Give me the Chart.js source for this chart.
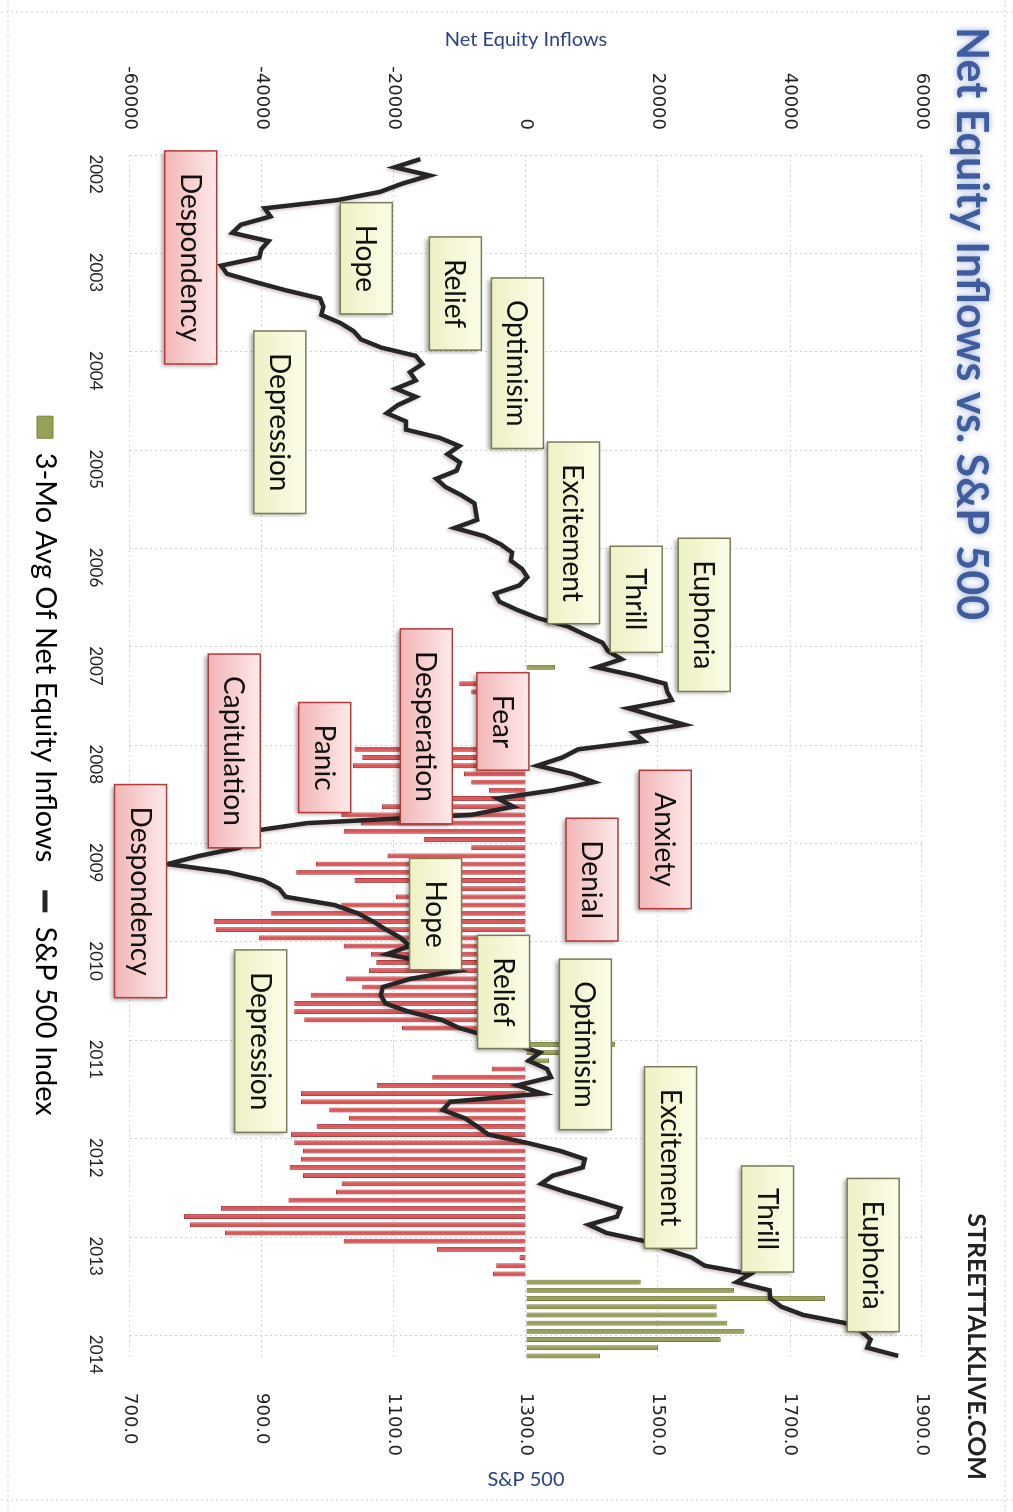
<!DOCTYPE html>
<html>
<head>
<meta charset="utf-8">
<title>Net Equity Inflows vs. S&amp;P 500</title>
<script src="https://cdn.jsdelivr.net/npm/chart.js@4.4.1/dist/chart.umd.min.js"></script>
<style>
  html, body { margin: 0; padding: 0; background: #fff; overflow: hidden; }
  #page { width: 1013px; height: 1512px; position: relative; }
  /* chart is drawn landscape and turned a quarter clockwise, like the scanned page */
  #wrap { position: absolute; left: 0; top: 0; width: 1512px; height: 1013px;
          transform-origin: 0 0; transform: translateX(1013px) rotate(90deg); }
</style>
</head>
<body>
<div id="page"><div id="wrap"><canvas id="chart" width="1512" height="1013"></canvas></div></div>
<script>
// months Jan 2002 .. Mar 2014
const months = [];
for (let yr = 2002; yr <= 2014; yr++) {
    for (let mo = 1; mo <= 12; mo++) {
        if (yr === 2014 && mo > 3) break;
        months.push(yr + "-" + String(mo).padStart(2, "0"));
    }
}

const yearLabels = ["2002", "2003", "2004", "2005", "2006", "2007", "2008",
    "2009", "2010", "2011", "2012", "2013", "2014"];

// S&P 500, monthly average
const spx = [
    1140, 1101, 1154, 1112, 1079, 1014, 904, 913, 868, 855, 910, 899,
    896, 838, 847, 890, 936, 988, 993, 990, 1019, 1039, 1050, 1081,
    1133, 1143, 1124, 1133, 1103, 1133, 1106, 1089, 1118, 1118, 1169, 1199,
    1181, 1200, 1195, 1164, 1178, 1202, 1222, 1224, 1226, 1192, 1237, 1262,
    1279, 1277, 1294, 1302, 1290, 1253, 1260, 1287, 1318, 1363, 1389, 1416,
    1424, 1445, 1407, 1464, 1511, 1514, 1521, 1455, 1497, 1540, 1463, 1479,
    1379, 1355, 1317, 1370, 1403, 1341, 1257, 1281, 1217, 969, 883, 878,
    866, 805, 757, 848, 902, 926, 936, 1010, 1045, 1068, 1088, 1110,
    1124, 1089, 1152, 1197, 1125, 1083, 1080, 1087, 1122, 1172, 1199, 1242,
    1283, 1321, 1304, 1332, 1338, 1287, 1325, 1185, 1174, 1207, 1226, 1243,
    1301, 1352, 1389, 1386, 1341, 1323, 1360, 1403, 1443, 1438, 1395, 1422,
    1480, 1512, 1551, 1571, 1640, 1619, 1669, 1670, 1687, 1720, 1784, 1808,
    1822, 1817, 1864
];

// 3-month average of net equity inflows (starts Mar 2007)
const netFlows = [
    null, null, null, null, null, null, null, null, null, null, null, null,
    null, null, null, null, null, null, null, null, null, null, null, null,
    null, null, null, null, null, null, null, null, null, null, null, null,
    null, null, null, null, null, null, null, null, null, null, null, null,
    null, null, null, null, null, null, null, null, null, null, null, null,
    null, null, 4400, -2500, -10100, -8300, -4000, -2000, -5500, -6500, -3000, -5000,
    -26000, -24800, -26200, -9400, -8300, -5600, -15000, -21800, -28000, -25000, -27600, -15500,
    -8300, -21000, -31800, -34800, -26000, -16000, -19700, -28000, -38600, -47300, -47000, -40500,
    -27600, -23500, -22700, -23800, -27300, -24800, -32600, -35100, -35100, -33600, -18800, -3000,
    13500, 13000, 3500, -5200, -14200, -22600, -34100, -34100, -29800, -26800, -31700, -35600,
    -35100, -33800, -34100, -35800, -33800, -27900, -28800, -36000, -46200, -51800, -50900, -45600,
    -27600, -13500, -1000, -4500, -5000, 17400, 31500, 45300, 28900, 28900, 30500, 33100,
    29500, 20000, 11200
];

// sentiment call-outs, anchored at (month index, net inflow)
const phases = [
    { text: "Despondency", month: 12.0, flow: -50800, mood: "fear" },
    { text: "Hope", month: 12.1, flow: -24200, mood: "greed" },
    { text: "Relief", month: 16.4, flow: -10700, mood: "greed" },
    { text: "Optimisim", month: 24.9, flow: -1300, mood: "greed" },
    { text: "Depression", month: 32.1, flow: -37300, mood: "greed" },
    { text: "Excitement", month: 45.6, flow: 7200, mood: "greed" },
    { text: "Thrill", month: 53.7, flow: 16700, mood: "greed" },
    { text: "Euphoria", month: 55.6, flow: 27000, mood: "greed" },
    { text: "Desperation", month: 69.2, flow: -15100, mood: "fear" },
    { text: "Fear", month: 68.6, flow: -3500, mood: "fear" },
    { text: "Capitulation", month: 72.2, flow: -44200, mood: "fear" },
    { text: "Panic", month: 73.0, flow: -30500, mood: "fear" },
    { text: "Anxiety", month: 83.0, flow: 21100, mood: "fear" },
    { text: "Denial", month: 87.9, flow: 10000, mood: "fear" },
    { text: "Despondency", month: 89.3, flow: -58400, mood: "fear" },
    { text: "Hope", month: 92.1, flow: -13700, mood: "greed" },
    { text: "Relief", month: 101.6, flow: -3400, mood: "greed" },
    { text: "Optimisim", month: 108.0, flow: 9000, mood: "greed" },
    { text: "Depression", month: 107.6, flow: -40200, mood: "greed" },
    { text: "Excitement", month: 121.8, flow: 21900, mood: "greed" },
    { text: "Thrill", month: 129.3, flow: 36600, mood: "greed" },
    { text: "Euphoria", month: 133.7, flow: 52600, mood: "greed" }
];

const RED = "#df565a";
const RED_EDGE = "#b23f43";
const GREEN = "#98a058";
const GREEN_EDGE = "#77803e";
const LINE = "#262626";
const GRID = "#d2d2d2";
const AXIS_BLUE = "#2b4283";

const decor = {
    id: "decor",
    beforeDraw(chart) {
        // faint spreadsheet cell borders of the scanned page
        const ctx = chart.ctx;
        ctx.save();
        ctx.strokeStyle = "#cfcfcf";
        ctx.lineWidth = 1;
        ctx.setLineDash([2, 3]);
        ctx.beginPath();
        ctx.moveTo(12, 0); ctx.lineTo(12, 1013);
        ctx.moveTo(1500, 0); ctx.lineTo(1500, 1013);
        ctx.moveTo(0, 1005); ctx.lineTo(1512, 1005);
        ctx.moveTo(0, 8); ctx.lineTo(1512, 8);
        ctx.stroke();
        ctx.restore();
    },
    beforeDatasetsDraw(chart) {
        const ctx = chart.ctx;
        ctx.save();
        ctx.shadowColor = "rgba(120,60,60,0.28)";
        ctx.shadowBlur = 3;
        ctx.shadowOffsetX = 2;
        ctx.shadowOffsetY = 2;
    },
    afterDatasetsDraw(chart) {
        const { ctx, scales } = chart;
        ctx.restore();
        ctx.save();
        ctx.font = "28px Lato";
        ctx.textAlign = "center";
        ctx.textBaseline = "middle";
        phases.forEach(p => {
            // fractional month -> pixel along the category axis
            const m0 = Math.floor(p.month);
            const p0 = scales.x.getPixelForValue(m0);
            const cx = p0 + (p.month - m0) * (scales.x.getPixelForValue(m0 + 1) - p0);
            const cy = scales.y.getPixelForValue(p.flow);
            const w = ctx.measureText(p.text).width + 44;
            const h = 52;
            const x0 = cx - w / 2, y0 = cy - h / 2;
            const fear = p.mood === "fear";
            const g = ctx.createLinearGradient(0, y0, 0, y0 + h);
            if (fear) {
                g.addColorStop(0, "#fde9e9");
                g.addColorStop(1, "#f2b6b6");
            } else {
                g.addColorStop(0, "#fcfde8");
                g.addColorStop(1, "#eef0c4");
            }
            ctx.shadowColor = "rgba(0,0,0,0.35)";
            ctx.shadowBlur = 4;
            ctx.shadowOffsetX = 2;
            ctx.shadowOffsetY = 3;
            ctx.fillStyle = g;
            ctx.fillRect(x0, y0, w, h);
            ctx.shadowColor = "transparent";
            ctx.lineWidth = 1.5;
            ctx.strokeStyle = fear ? "#b63a3a" : "#7c7c58";
            ctx.strokeRect(x0, y0, w, h);
            ctx.fillStyle = "#111";
            ctx.fillText(p.text, cx, cy + 1);
        });
        ctx.restore();
    },
    afterDraw(chart) {
        const { ctx, chartArea } = chart;
        ctx.save();
        ctx.textBaseline = "middle";
        // main title
        ctx.font = "bold 43px Lato";
        ctx.textAlign = "left";
        ctx.fillStyle = "#3e5c9e";
        ctx.shadowColor = "rgba(90,120,185,0.65)";
        ctx.shadowBlur = 6;
        ctx.fillText("Net Equity Inflows vs. S&P 500", 27, 42);
        ctx.shadowColor = "transparent";
        // source
        ctx.font = "bold 25px Lato";
        ctx.textAlign = "right";
        ctx.fillStyle = "#222";
        ctx.fillText("STREETTALKLIVE.COM", 1480, 37);
        // right axis title, read the same way as the left one
        ctx.translate(1480, (chartArea.top + chartArea.bottom) / 2);
        ctx.rotate(-Math.PI / 2);
        ctx.font = "20px Lato";
        ctx.textAlign = "center";
        ctx.fillStyle = AXIS_BLUE;
        ctx.fillText("S&P 500", 0, 0);
        ctx.restore();
    }
};

function drawChart() {
    const canvas = document.getElementById("chart");
    new Chart(canvas, {
        data: {
            labels: months,
            datasets: [
                {
                    type: "bar",
                    label: "3-Mo Avg Of Net Equity Inflows",
                    data: netFlows,
                    yAxisID: "y",
                    backgroundColor: c => (c.raw < 0 ? RED : GREEN),
                    borderColor: c => (c.raw < 0 ? RED_EDGE : GREEN_EDGE),
                    borderWidth: 1,
                    barPercentage: 0.6,
                    categoryPercentage: 1,
                    order: 1
                },
                {
                    type: "line",
                    label: "S&P 500 Index",
                    data: spx,
                    yAxisID: "y2",
                    borderColor: LINE,
                    borderWidth: 4.5,
                    pointRadius: 0,
                    tension: 0,
                    order: 0
                }
            ]
        },
        options: {
            responsive: false,
            animation: false,
            devicePixelRatio: 1,
            layout: { padding: { top: 91, bottom: 20.5, left: 20, right: 0 } },
            plugins: {
                tooltip: { enabled: false },
                legend: {
                    position: "bottom",
                    labels: {
                        font: { family: "Lato", size: 29 },
                        color: "#222",
                        padding: 28,
                        usePointStyle: true,
                        pointStyleWidth: 22,
                        boxHeight: 16,
                        generateLabels: () => [
                            { text: "3-Mo Avg Of Net Equity Inflows", fillStyle: GREEN, strokeStyle: GREEN_EDGE,
                              lineWidth: 1, pointStyle: "rect", datasetIndex: 0, hidden: false },
                            { text: "S&P 500 Index", fillStyle: LINE, strokeStyle: LINE,
                              lineWidth: 5, pointStyle: "line", datasetIndex: 1, hidden: false }
                        ]
                    }
                }
            },
            scales: {
                x: {
                    type: "category",
                    offset: true,
                    afterFit: s => { s.height = 42.5; },
                    ticks: {
                        callback: (v, i) => (i % 12 === 0 ? yearLabels[i / 12] : ""),
                        labelOffset: 15,
                        padding: 24,
                        autoSkip: false,
                        minRotation: 0,
                        maxRotation: 0,
                        font: { family: "Lato", size: 17 },
                        color: "#222"
                    },
                    grid: {
                        offset: true,
                        drawTicks: false,
                        color: c => (c.index % 12 === 0 ? GRID : "rgba(0,0,0,0)")
                    },
                    border: { display: false, dash: [2, 3] }
                },
                y: {
                    type: "linear",
                    position: "left",
                    min: -60000,
                    max: 60000,
                    afterFit: s => { s.width = 135; },
                    ticks: {
                        stepSize: 20000,
                        padding: 25,
                        callback: v => String(v),
                        font: { family: "DejaVu Sans", size: 18 },
                        color: "#222"
                    },
                    title: {
                        display: true,
                        text: "Net Equity Inflows",
                        font: { family: "Lato", size: 20 },
                        color: AXIS_BLUE,
                        padding: { top: 8 }
                    },
                    grid: { color: GRID, drawTicks: false },
                    border: { display: false, dash: [2, 3] }
                },
                y2: {
                    type: "linear",
                    position: "right",
                    min: 700,
                    max: 1900,
                    afterFit: s => { s.width = 152; },
                    ticks: {
                        stepSize: 200,
                        padding: 33,
                        callback: v => v.toFixed(1),
                        font: { family: "DejaVu Sans", size: 18 },
                        color: "#222"
                    },
                    grid: { display: false, drawTicks: false },
                    border: { display: false }
                }
            }
        },
        plugins: [decor]
    });
}

Promise.all([
    document.fonts.load("28px Lato"),
    document.fonts.load("bold 43px Lato"),
    document.fonts.load("18px 'DejaVu Sans'")
]).then(drawChart, drawChart);
</script>
</body>
</html>
